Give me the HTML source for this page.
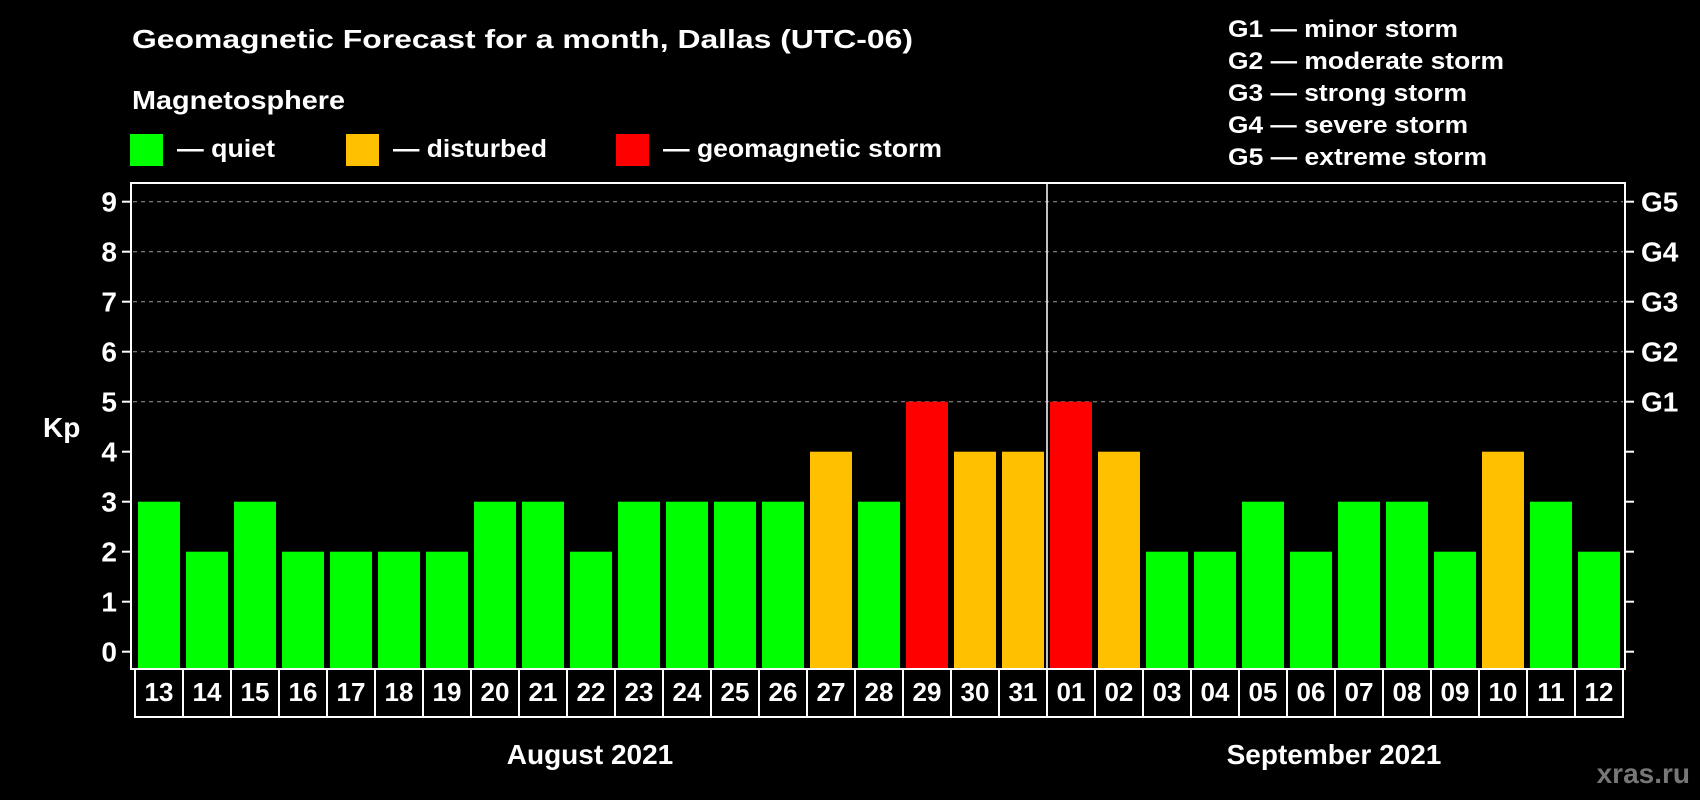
<!DOCTYPE html>
<html><head><meta charset="utf-8"><title>Geomagnetic Forecast</title>
<style>
html,body{margin:0;padding:0;background:#000;width:1700px;height:800px;overflow:hidden}
svg text{font-family:"Liberation Sans",Arial,sans-serif;font-weight:bold;fill:#fff}
</style></head>
<body>
<svg id="chart" xmlns="http://www.w3.org/2000/svg" width="1700" height="800" viewBox="0 0 1700 800">
<rect x="0" y="0" width="1700" height="800" fill="#000"/>
<text x="132" y="48" font-size="26" textLength="781" lengthAdjust="spacingAndGlyphs">Geomagnetic Forecast for a month, Dallas (UTC-06)</text>
<text x="132" y="109" font-size="26" textLength="213" lengthAdjust="spacingAndGlyphs">Magnetosphere</text>
<g>
<rect x="130" y="134" width="33" height="32" fill="#00ff00"/>
<text x="177" y="157" font-size="25" textLength="98" lengthAdjust="spacingAndGlyphs">— quiet</text></g>
<g>
<rect x="346" y="134" width="33" height="32" fill="#ffc000"/>
<text x="393" y="157" font-size="25" textLength="154" lengthAdjust="spacingAndGlyphs">— disturbed</text></g>
<g>
<rect x="616" y="134" width="33" height="32" fill="#ff0000"/>
<text x="663" y="157" font-size="25" textLength="279" lengthAdjust="spacingAndGlyphs">— geomagnetic storm</text></g>
<g font-size="24">
<text x="1228" y="37" textLength="230" lengthAdjust="spacingAndGlyphs">G1 — minor storm</text>
<text x="1228" y="69" textLength="276" lengthAdjust="spacingAndGlyphs">G2 — moderate storm</text>
<text x="1228" y="101" textLength="239" lengthAdjust="spacingAndGlyphs">G3 — strong storm</text>
<text x="1228" y="133" textLength="240" lengthAdjust="spacingAndGlyphs">G4 — severe storm</text>
<text x="1228" y="165" textLength="259" lengthAdjust="spacingAndGlyphs">G5 — extreme storm</text>
</g>
<text x="43" y="437" font-size="28">Kp</text>
<g id="grid"></g>
<g id="bars"></g>
<g id="axes"></g>
<text x="590" y="764" font-size="28" text-anchor="middle">August 2021</text>
<text x="1334" y="764" font-size="28" text-anchor="middle">September 2021</text>
<text x="1690" y="783" font-size="28" text-anchor="end" style="fill:#777">xras.ru</text>
</svg>
<script>
const days = ["13","14","15","16","17","18","19","20","21","22","23","24","25","26","27","28","29","30","31","01","02","03","04","05","06","07","08","09","10","11","12"];
const kpValues = [3,2,3,2,2,2,2,3,3,2,3,3,3,3,4,3,5,4,4,5,4,2,2,3,2,3,3,2,4,3,2];
const yTicks = [0,1,2,3,4,5,6,7,8,9];
const gLevels = [5,6,7,8,9];
const gLabels = ["G1","G2","G3","G4","G5"];
const monthSplitIndex = 19;

const NS = "http://www.w3.org/2000/svg";
const plotL = 131, plotR = 1625, plotT = 183, plotB = 669;
const slotL = 135, slotW = 48, barW = 42;
function yScale(v){ return 651.7 - 50 * v; }
function xSlot(i){ return slotL + i * slotW; }
function colorFor(v){ return v >= 5 ? "#ff0000" : (v >= 4 ? "#ffc000" : "#00ff00"); }
function mk(tag, attrs, parent){ const e = document.createElementNS(NS, tag); for (const k in attrs) e.setAttribute(k, attrs[k]); parent.appendChild(e); return e; }

const grid = document.getElementById("grid");
const bars = document.getElementById("bars");
const axes = document.getElementById("axes");

gLevels.forEach(function(v){
  const l = mk("line", {x1: plotL + 2, x2: plotR - 2, y1: yScale(v), y2: yScale(v), stroke: "#9a9a9a", "stroke-width": 1, "stroke-dasharray": "4,4"}, grid);
  
  
});

kpValues.forEach(function(v, i){
  const r = mk("rect", {x: xSlot(i) + 3, y: yScale(v), width: barW, height: yScale(0) - yScale(v) + 17, fill: colorFor(v)}, bars);
  
  
});

// plot frame
const frame = mk("rect", {x: plotL, y: plotT, width: plotR - plotL, height: plotB - plotT, fill: "none", stroke: "#fff", "stroke-width": 2}, axes);


const sep = mk("line", {x1: xSlot(monthSplitIndex), x2: xSlot(monthSplitIndex), y1: plotT, y2: plotB, stroke: "#fff", "stroke-width": 1.5}, axes);



yTicks.forEach(function(v){
  const t = mk("line", {x1: plotL - 9, x2: plotL, y1: yScale(v), y2: yScale(v), stroke: "#fff", "stroke-width": 2}, axes);
  
  
  const t2 = mk("line", {x1: plotR, x2: plotR + 9, y1: yScale(v), y2: yScale(v), stroke: "#fff", "stroke-width": 2}, axes);
  
  
  const lb = mk("text", {x: 117, y: yScale(v) + 10, "font-size": 28, "text-anchor": "end"}, axes);
  lb.textContent = String(v);
  
  
});

gLevels.forEach(function(v, i){
  const lb = mk("text", {x: 1641, y: yScale(v) + 10, "font-size": 28}, axes);
  lb.textContent = gLabels[i];
  
  
});

days.forEach(function(d, i){
  const b = mk("rect", {x: xSlot(i), y: plotB, width: slotW, height: 48, fill: "none", stroke: "#fff", "stroke-width": 2}, axes);
  
  
  const t = mk("text", {x: xSlot(i) + slotW / 2, y: 701, "font-size": 26, "text-anchor": "middle"}, axes);
  t.textContent = d;
  
  
});
</script>
</body></html>
